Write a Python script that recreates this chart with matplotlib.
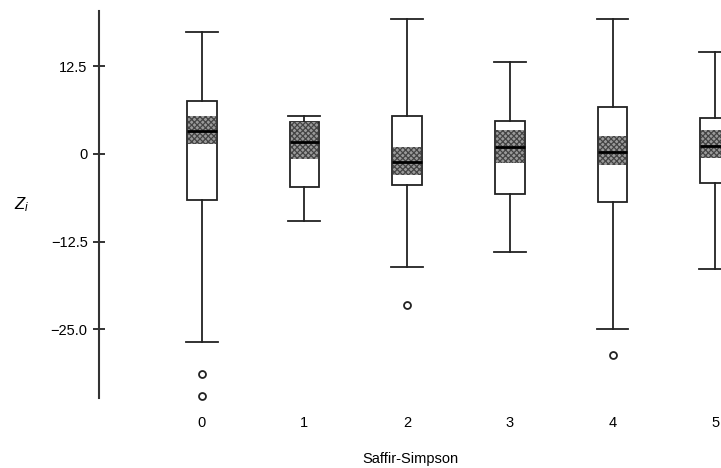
import numpy as np
import matplotlib
matplotlib.use("Agg")
import matplotlib.pyplot as plt

plt.rcParams['font.family'] = ['Liberation Sans', 'DejaVu Sans']
plt.rcParams['mathtext.fontset'] = 'custom'
plt.rcParams['mathtext.it'] = 'Liberation Sans:italic'
plt.rcParams['mathtext.rm'] = 'Liberation Sans'
plt.rcParams['hatch.linewidth'] = 0.9

# Saffir-Simpson categories and box statistics
categories = [0, 1, 2, 3, 4, 5]
whisker_hi = [17.35, 5.4, 19.2, 13.1, 19.2, 14.5]
q3 = [7.6, 4.6, 5.4, 4.65, 6.75, 5.2]
medians = [3.3, 1.75, -1.2, 0.95, 0.3, 1.2]
q1 = [-6.6, -4.75, -4.4, -5.75, -6.85, -4.2]
whisker_lo = [-26.8, -9.5, -16.15, -14.0, -24.95, -16.4]
ci_hi = [5.45, 4.6, 1.0, 3.4, 2.6, 3.4]
ci_lo = [1.4, -0.75, -2.95, -1.35, -1.6, -0.6]
outliers = [[-31.4, -34.5], [], [-21.5], [], [-28.65], []]

ink = '#222222'

fig = plt.figure(figsize=(7.21, 4.68), dpi=100)
ax = fig.add_axes([0.138, 0.1496, 0.862, 0.827])

stats = []
for i in range(len(categories)):
    stats.append({'med': medians[i], 'q1': q1[i], 'q3': q3[i],
                  'whislo': whisker_lo[i], 'whishi': whisker_hi[i],
                  'fliers': outliers[i]})

parts = ax.bxp(stats, positions=categories, widths=0.29, patch_artist=True,
               showfliers=True, manage_ticks=False,
               boxprops=dict(facecolor='white', edgecolor=ink, linewidth=1.3, zorder=2),
               whiskerprops=dict(color=ink, linewidth=1.3),
               capprops=dict(color=ink, linewidth=1.3),
               capwidths=0.31,
               medianprops=dict(color='black', linewidth=2.0, zorder=5),
               flierprops=dict(marker='o', markerfacecolor='none', markeredgecolor=ink,
                               markersize=5, markeredgewidth=1.3))
for fl in parts['fliers']:
    fl.set_clip_on(False)

# shaded confidence band around the median
heights = np.array(ci_hi) - np.array(ci_lo)
ax.bar(categories, heights, bottom=ci_lo, width=0.27, color='#9a9a9a',
       hatch='xxxxxx', edgecolor='#444444', linewidth=0, zorder=3)

ax.set_xlim(-0.995, 5.056)
ax.set_ylim(-34.8, 20.4)

ax.set_yticks([-25.0, -12.5, 0, 12.5])
ax.set_yticklabels(['\u221225.0', '\u221212.5', '0', '12.5'])
ax.set_xticks(categories)
ax.set_xticklabels([str(c) for c in categories])

for side in ['top', 'right', 'bottom']:
    ax.spines[side].set_visible(False)
ax.spines['left'].set_color('#333333')
ax.spines['left'].set_linewidth(1.5)

ax.tick_params(axis='y', direction='inout', length=9, width=1.4,
               color='#333333', labelsize=10.5, pad=4)
ax.tick_params(axis='x', length=0, labelsize=10.5, pad=13)

ax.set_xlabel('Saffir-Simpson', fontsize=10.5, labelpad=16)
fig.text(0.03, 1 - 205 / 468, '$Z_i$', fontsize=12, ha='center', va='center')

fig.savefig('out.png', dpi=100)
